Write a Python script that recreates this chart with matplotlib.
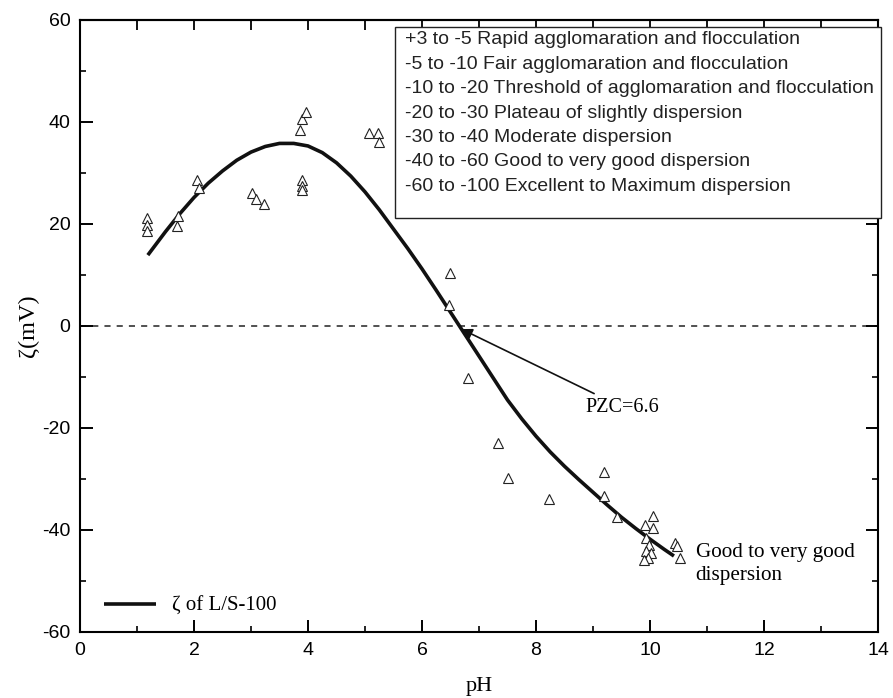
import matplotlib
matplotlib.use("Agg")
import matplotlib.pyplot as plt
from matplotlib.ticker import MultipleLocator
from matplotlib.patches import Rectangle

plt.rcParams["axes.unicode_minus"] = False

# ---- data ----
pts_ph = [1.17, 1.17, 1.18, 1.72, 1.70, 2.05, 2.09, 3.02, 3.09, 3.23,
          3.89, 3.89, 3.89, 3.86, 3.89, 3.96, 5.07, 5.22, 5.25,
          6.49, 6.47, 6.81, 7.33, 7.51, 8.23, 9.19, 9.19, 9.42,
          10.05, 9.91, 10.05, 9.93, 9.98, 9.93, 10.02, 9.96, 9.90,
          10.44, 10.47, 10.52]
pts_zeta = [21.2, 19.8, 18.6, 21.6, 19.6, 28.6, 27.0, 26.1, 24.9, 23.9,
            28.6, 27.5, 26.7, 38.4, 40.6, 42.0, 37.8, 37.8, 36.1,
            10.4, 4.1, -10.2, -22.9, -29.8, -33.9, -28.6, -33.3, -37.5,
            -37.3, -39.0, -39.6, -41.5, -43.0, -44.2, -44.5, -45.5, -45.8,
            -42.5, -43.1, -45.4]

curve_ph = [1.19, 1.5, 1.75, 2.0, 2.25, 2.5, 2.75, 3.0, 3.25, 3.5, 3.75,
            4.0, 4.25, 4.5, 4.75, 5.0, 5.25, 5.5, 5.75, 6.0, 6.25, 6.5,
            6.75, 7.0, 7.25, 7.5, 7.75, 8.0, 8.25, 8.5, 8.75, 9.0, 9.25,
            9.5, 9.75, 10.0, 10.25, 10.42]
curve_zeta = [13.9, 18.5, 22.0, 25.2, 28.0, 30.4, 32.5, 34.1, 35.2, 35.8, 35.8,
              35.3, 34.0, 32.0, 29.4, 26.3, 22.8, 19.0, 15.2, 11.2, 7.0, 2.7,
              -1.6, -5.9, -10.2, -14.5, -18.2, -21.6, -24.7, -27.5, -30.1, -32.6, -35.1,
              -37.5, -39.7, -41.8, -43.8, -45.1]

box_lines = [
    "+3 to -5 Rapid agglomaration and flocculation",
    "-5 to -10 Fair agglomaration and flocculation",
    "-10 to -20 Threshold of agglomaration and flocculation",
    "-20 to -30 Plateau of slightly dispersion",
    "-30 to -40 Moderate dispersion",
    "-40 to -60 Good to very good dispersion",
    "-60 to -100 Excellent to Maximum dispersion",
]
x_ticks = [0, 2, 4, 6, 8, 10, 12, 14]
y_ticks = [-60, -40, -20, 0, 20, 40, 60]

SANS = ["Liberation Sans", "DejaVu Sans"]
SERIF = ["Liberation Serif", "DejaVu Serif"]

W, H = 893, 698
fig = plt.figure(figsize=(W / 100, H / 100), dpi=100)
ax = fig.add_axes([80 / W, 1 - 632 / H, 798 / W, 612 / H])

ax.axhline(0, color="#222222", lw=1.1, ls=(0, (4, 4)), zorder=1)
line, = ax.plot(curve_ph, curve_zeta, color="#111111", lw=2.6,
                solid_capstyle="butt", solid_joinstyle="round", zorder=3,
                label="\u03b6 of L/S-100")
ax.plot(pts_ph, pts_zeta, ls="none", marker="^", ms=6.5, mfc="white",
        mec="#222222", mew=0.8, zorder=4)

ax.set_xlim(0, 14)
ax.set_ylim(-60, 60)
ax.set_xticks(x_ticks)
ax.set_yticks(y_ticks)
ax.xaxis.set_minor_locator(MultipleLocator(1))
ax.yaxis.set_minor_locator(MultipleLocator(10))
ax.tick_params(which="major", direction="in", length=9, width=1.4,
               top=False, right=True, labelsize=14, pad=7)
ax.tick_params(which="minor", direction="in", length=4.5, width=1.2,
               top=False, right=True)
for lab in ax.get_xticklabels() + ax.get_yticklabels():
    lab.set_family(SANS)
for s in ax.spines.values():
    s.set_linewidth(1.5)

sec = ax.secondary_xaxis("top")
sec.set_xticks(list(range(0, 15)))
sec.tick_params(direction="in", length=7, width=1.3, labeltop=False)
sec.spines["top"].set_linewidth(1.5)

ax.set_xlabel("pH", family=SERIF, fontsize=16, labelpad=13)
ax.set_ylabel("\u03b6(mV)", family=SERIF, fontsize=17.5, labelpad=2)

# info box
box_l, box_r = (395 - 80) / 798, (881 - 80) / 798
box_t, box_b = (632 - 27) / 612, (632 - 218) / 612
ax.add_patch(Rectangle((box_l, box_b), box_r - box_l, box_t - box_b,
                       transform=ax.transAxes, facecolor="white",
                       edgecolor="#222222", lw=1.0, clip_on=False, zorder=5))
for i, t in enumerate(box_lines):
    yc = (632 - (40 + i * 24.4)) / 612
    ax.text((405 - 80) / 798, yc, t, transform=ax.transAxes, va="center",
            ha="left", family=SANS, fontsize=14, color="#222222", zorder=6)

# PZC annotation
ax.annotate("PZC=6.6", xy=(6.69, -0.6), xytext=(8.86, -15.9),
            family=SERIF, fontsize=14.5, va="center", ha="left",
            arrowprops=dict(arrowstyle="-|>", color="#111111", lw=1.2,
                            mutation_scale=16, shrinkA=2, shrinkB=0))

ax.text(10.8, -46.7, "Good to very good\ndispersion", family=SERIF,
        fontsize=15.2, va="center", ha="left", linespacing=1.3)

leg = ax.legend(handles=[line], loc="lower left", bbox_to_anchor=(0.006, -0.005),
                frameon=False, handlelength=2.5, handletextpad=0.8,
                prop={"family": SERIF, "size": 15})

fig.savefig("out.png", dpi=100)
